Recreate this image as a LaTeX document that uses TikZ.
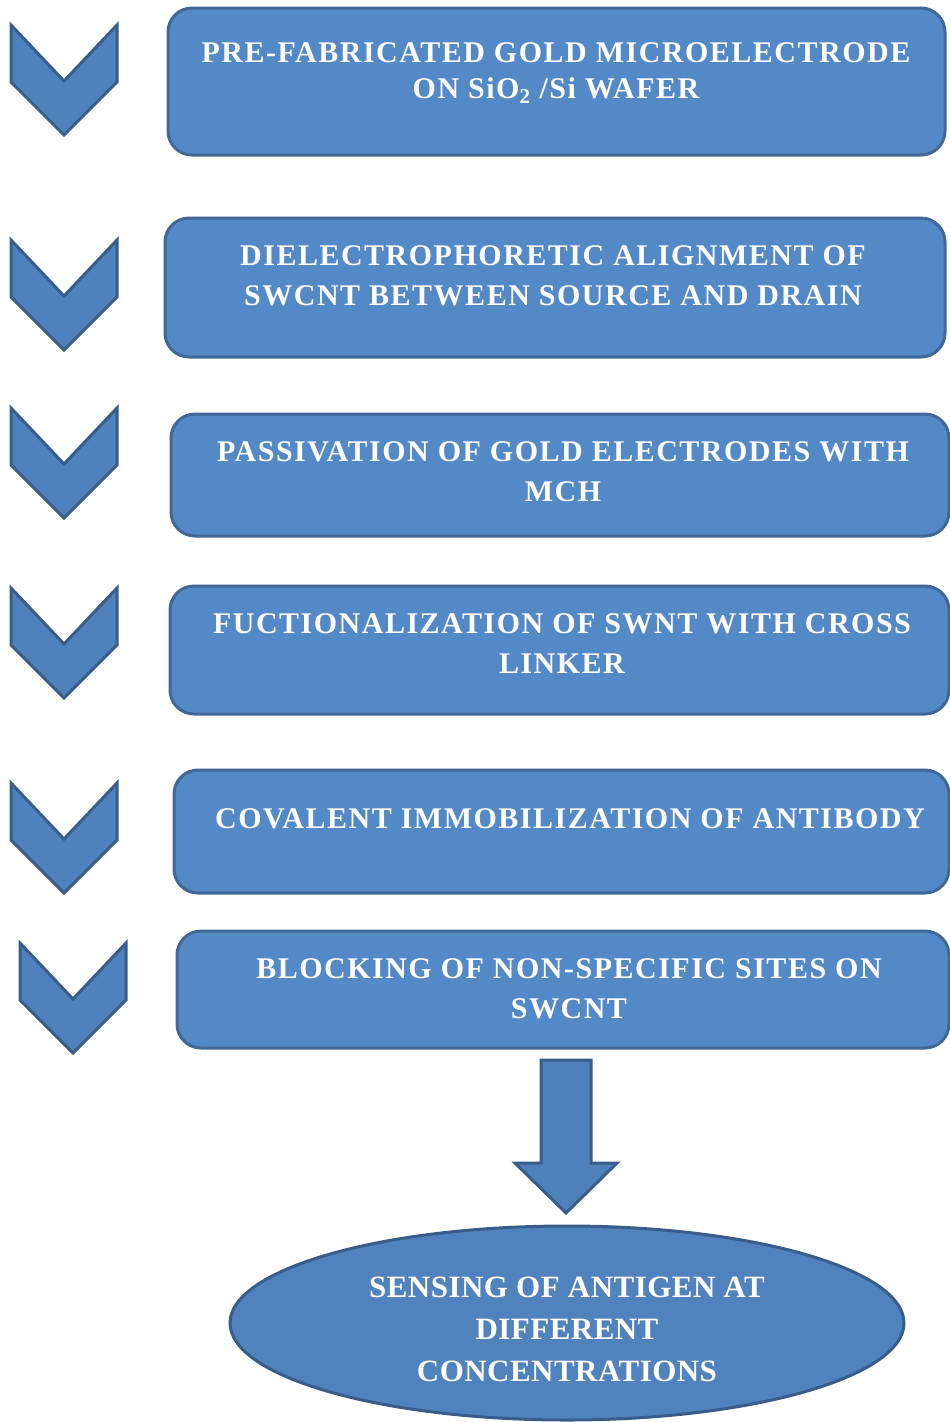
\documentclass[tikz,border=0pt]{standalone}
\usepackage{fontspec}
\setmainfont{Liberation Serif}
\usetikzlibrary{shapes.geometric}
\definecolor{boxfill}{RGB}{84,137,199}
\definecolor{boxline}{RGB}{64,103,150}
\definecolor{chevfill}{RGB}{79,129,189}
\definecolor{chevline}{RGB}{56,93,138}
\definecolor{ellin}{RGB}{80,130,189}
\definecolor{ellout}{RGB}{62,102,155}
\pgfdeclareradialshading{ellshade}{\pgfpoint{0bp}{0bp}}{color(0bp)=(ellin); color(40bp)=(ellin); color(50bp)=(ellout)}
\begin{document}
\begin{tikzpicture}[x=1pt,y=-1pt,
  stepbox/.style={draw=boxline, line width=3pt, fill=boxfill, rounded corners=24pt, inner sep=0pt, outer sep=0pt},
  steptext/.style={text=white, font=\fontsize{30}{40}\selectfont\bfseries\addfontfeature{LetterSpace=5}, align=center, inner sep=0pt},
  chevstyle/.style={draw=chevline, line width=3pt, fill=chevfill, line join=miter},
  chev/.pic={\path[chevstyle] (-53,0) -- (0,56) -- (53,0) -- (53,57) -- (0,110) -- (-53,57) -- cycle;},
  arrowstyle/.style={draw=chevline, line width=3pt, fill=chevfill, line join=miter},
  endnode/.style={ellipse, draw=chevline, line width=3pt, shading=ellshade, minimum width=674pt, minimum height=194pt, inner sep=0pt, text=white, font=\fontsize{31}{42}\selectfont\bfseries\addfontfeature{LetterSpace=1.5}, align=center},
]
\useasboundingbox (0,0) rectangle (950,1422);
\clip (0,0) rectangle (950,1422);

% chevrons
\pic at (64,25) {chev};
\pic at (64,240) {chev};
\pic at (64,408) {chev};
\pic at (64,588) {chev};
\pic at (64,783) {chev};
\pic at (73,943) {chev};

% boxes
\node[stepbox, minimum width=777pt, minimum height=147pt] (b1) at (556.5,81.5) {};
\node[stepbox, minimum width=780pt, minimum height=139pt] (b2) at (555,287.5) {};
\node[stepbox, minimum width=778pt, minimum height=122pt] (b3) at (560,475) {};
\node[stepbox, minimum width=779pt, minimum height=128pt] (b4) at (559.5,650) {};
\node[stepbox, minimum width=775pt, minimum height=123pt] (b5) at (561.5,831.5) {};
\node[stepbox, minimum width=772pt, minimum height=117pt] (b6) at (563,989.5) {};

% texts
\node[steptext, font=\fontsize{30}{36}\selectfont\bfseries\addfontfeature{LetterSpace=5}] (t1) at (556,73) {PRE-FABRICATED GOLD MICROELECTRODE\\ON SiO\textsubscript{2} /Si WAFER};
\node[steptext] (t2) at (553,276) {DIELECTROPHORETIC ALIGNMENT OF\\SWCNT BETWEEN SOURCE AND DRAIN};
\node[steptext] (t3) at (563,472) {PASSIVATION OF GOLD ELECTRODES WITH\\MCH};
\node[steptext] (t4) at (562,644) {FUCTIONALIZATION OF SWNT WITH CROSS\\LINKER};
\node[steptext] (t5) at (570,819) {COVALENT IMMOBILIZATION OF ANTIBODY};
\node[steptext] (t6) at (569,989) {BLOCKING OF NON-SPECIFIC SITES ON\\SWCNT};

% final ellipse
\node[endnode] (ell) at (567,1323) {};
\node[text=white, font=\fontsize{31}{42}\selectfont\bfseries\addfontfeature{LetterSpace=1.5}, align=center, inner sep=0pt] (t7) at (567,1329) {SENSING OF ANTIGEN AT\\DIFFERENT\\CONCENTRATIONS};

% block arrow from last box to ellipse
\path[arrowstyle] (541,1060) -- (591,1060) -- (591,1163) -- (617,1163) -- (566,1213) -- (515,1163) -- (541,1163) -- cycle;
\end{tikzpicture}
\end{document}
